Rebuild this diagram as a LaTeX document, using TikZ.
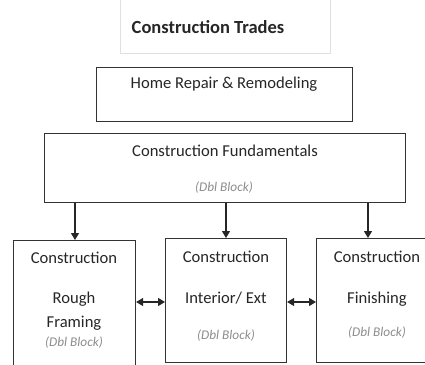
\documentclass[tikz,border=0pt]{standalone}
\usepackage{fontspec}
\setmainfont{Carlito}
\usetikzlibrary{arrows.meta}

\tikzset{
    blk/.style={draw=black!80, line width=1.1pt, anchor=north west, inner sep=0pt},
    txt/.style={inner sep=0pt, font=\fontsize{16.6}{19}\selectfont, text=black!85},
    dbl/.style={inner sep=0pt, font=\fontsize{13.3}{15}\selectfont\itshape, text=black!45},
    arr/.style={-{Triangle[width=8pt,length=7pt]}, line width=1.1pt, black!85},
    biarr/.style={{Triangle[width=8pt,length=7pt]}-{Triangle[width=8pt,length=7pt]}, line width=1.1pt, black!85}
}

\begin{document}
\begin{tikzpicture}[x=1pt, y=-1pt]
    \useasboundingbox (0,0) rectangle (425,364);
    \clip (0,0) rectangle (425,364);

    % Title
    \node[blk, draw=black!12, line width=0.8pt, minimum width=210pt, minimum height=58pt] (title) at (120,-5) {};
    \node[txt, font=\fontsize{18.5}{21}\selectfont\bfseries] (titletxt) at (208,27) {Construction Trades};

    % Upper blocks
    \node[blk, minimum width=256pt, minimum height=54pt] (home) at (96,67) {};
    \node[txt] (hometxt) at (224,84) {Home Repair \& Remodeling};

    \node[blk, minimum width=361pt, minimum height=69pt] (fund) at (44,133) {};
    \node[txt] (fundtxt) at (225,151) {Construction Fundamentals};
    \node[dbl] (funddbl) at (224,188) {(Dbl Block)};

    % Lower blocks
    \node[blk, minimum width=122pt, minimum height=140pt] (rough) at (13,240) {};
    \node[blk, minimum width=121pt, minimum height=124pt] (inter) at (165,238) {};
    \node[blk, minimum width=124pt, minimum height=124pt] (fin) at (316,238) {};

    \node[txt] (roughA) at (74,258) {Construction};
    \node[txt] (roughB) at (74,299) {Rough};
    \node[txt] (roughC) at (74,323) {Framing};
    \node[dbl] (roughD) at (74,343) {(Dbl Block)};

    \node[txt] (interA) at (226,257) {Construction};
    \node[txt] (interB) at (226,298) {Interior/ Ext};
    \node[dbl] (interD) at (226,336) {(Dbl Block)};

    \node[txt] (finA) at (377,257) {Construction};
    \node[txt] (finB) at (377,299) {Finishing};
    \node[dbl] (finD) at (377,333) {(Dbl Block)};

    % Connectors
    \coordinate (roughTop) at (75,240);
    \coordinate (interTop) at (226,238);
    \coordinate (finTop) at (368,238);
    \foreach \t in {roughTop, interTop, finTop}
        \draw[arr] (\t |- fund.south) -- (\t);

    \coordinate (sideY) at (0,302);
    \draw[biarr] (rough.east |- sideY) -- (inter.west |- sideY);
    \draw[biarr] (inter.east |- sideY) -- (fin.west |- sideY);
\end{tikzpicture}
\end{document}
